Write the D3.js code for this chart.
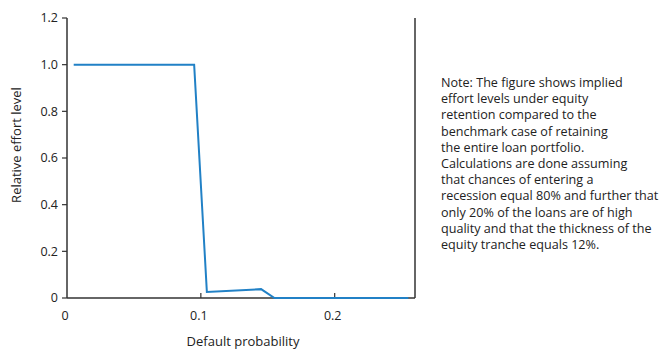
<!DOCTYPE html>
<html><head><meta charset="utf-8">
<script src="https://cdn.jsdelivr.net/npm/d3@7"></script>
<style>body{margin:0;background:#fff}svg{display:block}text{font-family:"Open Sans",sans-serif;fill:#222}</style>
</head><body><svg id="c" width="664" height="351"></svg>
<script>
const xValues = [0.005, 0.095, 0.1045, 0.145, 0.155, 0.255];
const yValues = [1.0, 1.0, 0.026, 0.038, 0.0, 0.0];
const xTicks = [0, 0.1, 0.2];
const xTickLabels = ["0", "0.1", "0.2"];
const yTicks = [0, 0.2, 0.4, 0.6, 0.8, 1.0, 1.2];
const yTickLabels = ["0", "0.2", "0.4", "0.6", "0.8", "1.0", "1.2"];
const noteLines = [
 "Note: The figure shows implied",
 "effort levels under equity",
 "retention compared to the",
 "benchmark case of retaining",
 "the entire loan portfolio.",
 "Calculations are done assuming",
 "that chances of entering a",
 "recession equal 80% and further that",
 "only 20% of the loans are of high",
 "quality and that the thickness of the",
 "equity tranche equals 12%."
];
const svg = d3.select("#c");
const L=67,R=415,T=18,B=298;
const x = d3.scaleLinear().domain([0,0.26]).range([L,R]);
const y = d3.scaleLinear().domain([0,1.2]).range([B,T]);
const axc="#333";
const ga = svg.append("g");
ga.append("line").attr("x1",L).attr("x2",L).attr("y1",T).attr("y2",B).attr("stroke",axc).attr("stroke-width",1.5);
ga.append("line").attr("x1",R).attr("x2",R).attr("y1",T).attr("y2",B).attr("stroke",axc).attr("stroke-width",1.5);
ga.append("line").attr("x1",L).attr("x2",R).attr("y1",B).attr("y2",B).attr("stroke",axc).attr("stroke-width",1.5);
yTicks.forEach((t,i)=>{
  ga.append("line").attr("x1",L-5).attr("x2",L).attr("y1",y(t)).attr("y2",y(t)).attr("stroke",axc).attr("stroke-width",1.2);
  ga.append("text").attr("x",L-9).attr("y",y(t)).attr("dy","0.35em").attr("text-anchor","end").attr("font-size",12.5).text(yTickLabels[i]);
});
xTicks.forEach((t,i)=>{
  if(t>0) ga.append("line").attr("x1",x(t)).attr("x2",x(t)).attr("y1",B).attr("y2",B-5).attr("stroke",axc).attr("stroke-width",1.2);
  ga.append("text").attr("x",x(t)-2).attr("y",B+22).attr("text-anchor","middle").attr("font-size",12.5).text(xTickLabels[i]);
});
svg.append("text").attr("x",243).attr("y",346).attr("text-anchor","middle").attr("font-size",13).text("Default probability");
svg.append("text").attr("transform","translate(21,145) rotate(-90)").attr("text-anchor","middle").attr("font-size",13).text("Relative effort level");
const line = d3.line().x((d,i)=>x(xValues[i])).y((d,i)=>y(yValues[i]));
svg.append("path").datum(xValues).attr("d",line).attr("fill","none").attr("stroke","#2181c6").attr("stroke-width",2);
const nt = svg.append("text").attr("x",441).attr("y",87).attr("font-size",12.6);
noteLines.forEach((s,i)=>nt.append("tspan").attr("x",441).attr("y",87+i*16.2).text(s));
</script></body></html>
